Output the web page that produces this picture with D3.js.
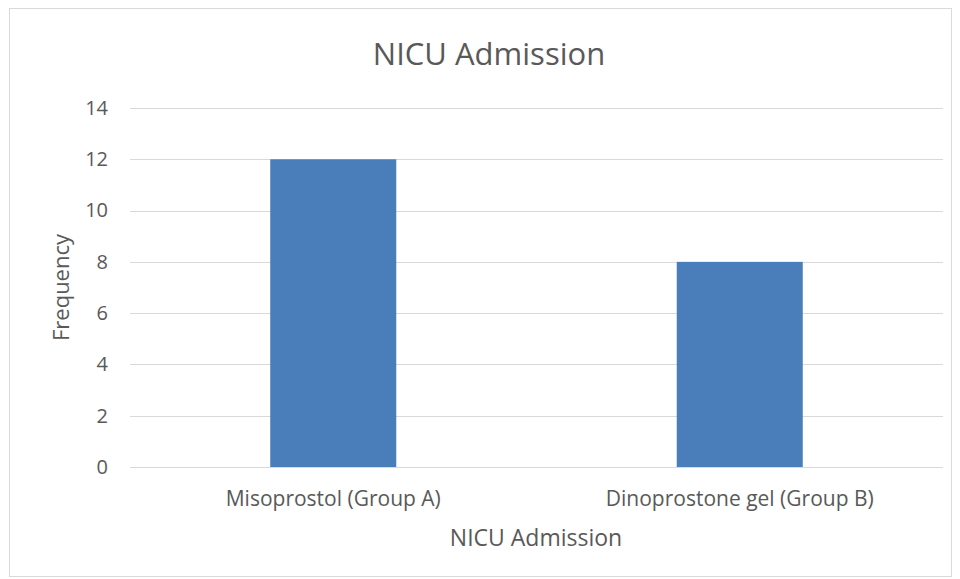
<!DOCTYPE html>
<html>
<head>
<meta charset="utf-8">
<script src="https://cdn.jsdelivr.net/npm/d3@7"></script>
<style>
  html, body { margin: 0; padding: 0; background: #fff; }
  svg { display: block; font-family: "Open Sans", "Noto Sans", sans-serif; }
</style>
</head>
<body>
<svg id="chart" width="960" height="579"></svg>
<script>
// NICU admissions per induction group
const categories = ["Misoprostol (Group A)", "Dinoprostone gel (Group B)"];
const frequency = [12, 8];
const yTicks = [0, 2, 4, 6, 8, 10, 12, 14];

const svg = d3.select("#chart");
const plot = { left: 130, right: 943, top: 108, bottom: 467 };
const textColor = "#595959";

// chart frame
svg.append("rect")
  .attr("x", 9.5).attr("y", 8.5)
  .attr("width", 942).attr("height", 568)
  .attr("fill", "#fff").attr("stroke", "#d9d9d9").attr("stroke-width", 1);

const x = d3.scaleBand()
  .domain(categories)
  .range([plot.left, plot.right])
  .paddingInner(0.69)
  .paddingOuter(0.345);

const y = d3.scaleLinear()
  .domain([0, 14])
  .range([plot.bottom, plot.top]);

// horizontal gridlines
svg.append("g")
  .selectAll("line")
  .data(yTicks)
  .join("line")
  .attr("x1", plot.left).attr("x2", plot.right)
  .attr("y1", d => Math.round(y(d)) + 0.5)
  .attr("y2", d => Math.round(y(d)) + 0.5)
  .attr("stroke", "#d9d9d9").attr("stroke-width", 1);

// y axis labels
const yAxis = d3.axisLeft(y).tickValues(yTicks).tickSize(0).tickPadding(0);
const gy = svg.append("g")
  .attr("transform", `translate(${plot.left - 22},0)`)
  .call(yAxis);
gy.select(".domain").remove();
gy.selectAll("text")
  .attr("fill", textColor)
  .style("font-size", "20px")
  .style("font-family", "'Open Sans', sans-serif");

// bars
svg.append("g")
  .selectAll("rect")
  .data(categories.map((c, i) => ({ c, v: frequency[i] })))
  .join("rect")
  .attr("x", d => x(d.c))
  .attr("width", x.bandwidth())
  .attr("y", d => y(d.v))
  .attr("height", d => y(0) - y(d.v))
  .attr("fill", "#4a7ebb");

// x axis category labels
const xAxis = d3.axisBottom(x).tickSize(0).tickPadding(0);
const gx = svg.append("g")
  .attr("transform", `translate(0,${plot.bottom + 39})`)
  .call(xAxis);
gx.select(".domain").remove();
gx.selectAll("text")
  .attr("dy", 0)
  .attr("fill", textColor)
  .style("font-size", "21px")
  .style("font-family", "'Open Sans', sans-serif");

// chart title
svg.append("text")
  .attr("x", 489).attr("y", 65)
  .attr("text-anchor", "middle")
  .attr("fill", textColor)
  .style("font-size", "31px")
  .text("NICU Admission");

// x axis title
svg.append("text")
  .attr("x", 536).attr("y", 546)
  .attr("text-anchor", "middle")
  .attr("fill", textColor)
  .style("font-size", "23px")
  .text("NICU Admission");

// y axis title
svg.append("text")
  .attr("transform", `translate(69,${(plot.top + plot.bottom) / 2}) rotate(-90)`)
  .attr("text-anchor", "middle")
  .attr("fill", textColor)
  .style("font-size", "22px")
  .text("Frequency");
</script>
</body>
</html>
